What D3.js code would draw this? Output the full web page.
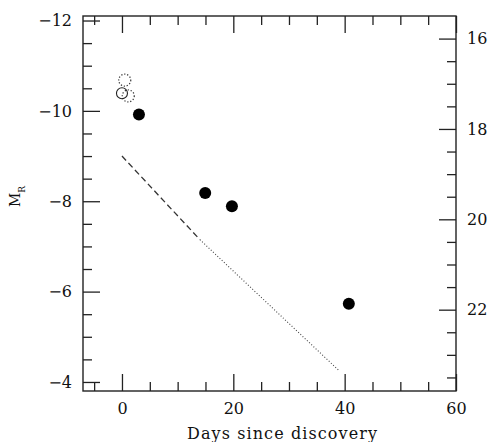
<!DOCTYPE html>
<html>
<head>
<meta charset="utf-8">
<script src="https://cdn.jsdelivr.net/npm/d3@7"></script>
<style>
  html, body { margin: 0; padding: 0; background: #fff; }
  svg { display: block; }
  .tick text { font-family: "DejaVu Serif", serif; font-size: 16px; fill: #111; }
  .tick line { stroke: #222; stroke-width: 1.3; }
</style>
</head>
<body>
<svg id="chart" width="489" height="442"></svg>
<script>
// Light curve: detections (filled), early measurements (open / dotted)
const detDays = [3.05, 14.95, 19.75, 40.75];
const detMag  = [-9.92, -8.18, -7.89, -5.73];

const openDays = [0.0];
const openMag  = [-10.39];

const dottedDays = [0.5, 1.13];
const dottedMag  = [-10.68, -10.33];

// Comparison decline: measured part (dashed) and extrapolation (dotted)
const dashDays  = [0, 14];
const dashMag   = [-9.0, -7.15];
const dotDays   = [14, 39];
const dotMag    = [-7.15, -4.25];

// Axis ticks
const xMajor = [0, 20, 40, 60];
const xMinor = [-5, 5, 10, 15, 25, 30, 35, 45, 50, 55];
const yMajor = [-12, -10, -8, -6, -4];
const yMinor = [-11.5, -11, -10.5, -9.5, -9, -8.5, -7.5, -7, -6.5, -5.5, -5, -4.5];
const appMajor = [16, 18, 20, 22];
const appMinor = [16.5, 17, 17.5, 18.5, 19, 19.5, 20.5, 21, 21.5, 22.5, 23, 23.5];
const distMod = 27.6;

const svg = d3.select("#chart");
const L = 83, R = 456, T = 16, B = 391;

const x = d3.scaleLinear().domain([-7, 60]).range([L, R]);
const y = d3.scaleLinear().domain([-3.8, -12.1]).range([B, T]);
const yApp = d3.scaleLinear().domain([-3.8 + distMod, -12.1 + distMod]).range([B, T]);

function drawAxis(axis, tx, ty) {
  const g = svg.append("g").attr("transform", `translate(${tx},${ty})`).call(axis);
  g.select(".domain").remove();
  return g;
}

// Bottom axis
drawAxis(d3.axisBottom(x).tickValues(xMajor).tickSize(-17).tickPadding(12), 0, B);
drawAxis(d3.axisBottom(x).tickValues(xMinor).tickSize(-9).tickFormat(""), 0, B);
// Top axis
drawAxis(d3.axisTop(x).tickValues(xMajor).tickSize(-17).tickFormat(""), 0, T);
drawAxis(d3.axisTop(x).tickValues(xMinor).tickSize(-9).tickFormat(""), 0, T);
// Left axis (absolute magnitude)
drawAxis(d3.axisLeft(y).tickValues(yMajor).tickSize(-17).tickPadding(11), L, 0);
drawAxis(d3.axisLeft(y).tickValues(yMinor).tickSize(-9).tickFormat(""), L, 0);
// Right axis (apparent magnitude)
drawAxis(d3.axisRight(yApp).tickValues(appMajor).tickSize(-17).tickPadding(11), R, 0);
drawAxis(d3.axisRight(yApp).tickValues(appMinor).tickSize(-9).tickFormat(""), R, 0);

// Frame
svg.append("rect")
  .attr("x", L).attr("y", T).attr("width", R - L).attr("height", B - T)
  .attr("fill", "none").attr("stroke", "#222").attr("stroke-width", 1.4);

// Decline lines
const line = d3.line().x(d => x(d[0])).y(d => y(d[1]));
svg.append("path")
  .datum(d3.zip(dashDays, dashMag))
  .attr("d", line)
  .attr("fill", "none").attr("stroke", "#333").attr("stroke-width", 1.3)
  .attr("stroke-dasharray", "6,3.5");
svg.append("path")
  .datum(d3.zip(dotDays, dotMag))
  .attr("d", line)
  .attr("fill", "none").attr("stroke", "#444").attr("stroke-width", 1.1)
  .attr("stroke-dasharray", "1,2");

// Early points
svg.selectAll(".dotted-pt")
  .data(d3.zip(dottedDays, dottedMag))
  .join("circle")
  .attr("class", "dotted-pt")
  .attr("cx", d => x(d[0])).attr("cy", d => y(d[1])).attr("r", 6)
  .attr("fill", "none").attr("stroke", "#333").attr("stroke-width", 1.2)
  .attr("stroke-dasharray", "1.2,1.8");
svg.selectAll(".open-pt")
  .data(d3.zip(openDays, openMag))
  .join("circle")
  .attr("class", "open-pt")
  .attr("cx", d => x(d[0])).attr("cy", d => y(d[1])).attr("r", 5.5)
  .attr("fill", "none").attr("stroke", "#222").attr("stroke-width", 1.1);

// Detections
svg.selectAll(".det-pt")
  .data(d3.zip(detDays, detMag))
  .join("circle")
  .attr("class", "det-pt")
  .attr("cx", d => x(d[0])).attr("cy", d => y(d[1])).attr("r", 6)
  .attr("fill", "#000");

// Axis titles
svg.append("text")
  .attr("x", 187).attr("y", 439)
  .attr("textLength", 190).attr("lengthAdjust", "spacing")
  .style("font-family", "DejaVu Serif, serif").style("font-size", "16px").style("fill", "#111")
  .text("Days since discovery");

const yt = svg.append("text")
  .attr("transform", "translate(20,207) rotate(-90)")
  .style("font-family", "DejaVu Serif, serif").style("fill", "#111");
yt.append("tspan").style("font-size", "14px").text("M");
yt.append("tspan").attr("dy", 5).style("font-size", "9px").text("R");
</script>
</body>
</html>
